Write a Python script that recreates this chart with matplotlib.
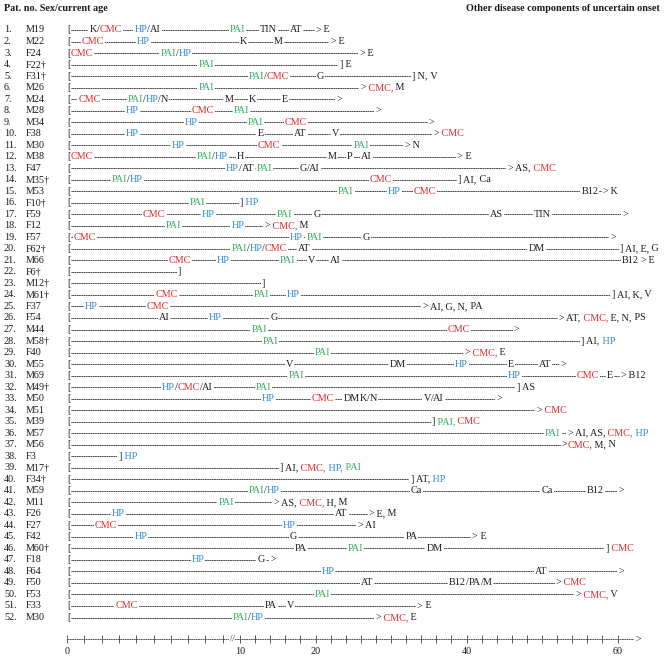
import numpy as np
import matplotlib
matplotlib.use("Agg")
import matplotlib.pyplot as plt

plt.rcParams['font.family'] = ['Liberation Serif', 'DejaVu Serif']

# ---------------- data ----------------
patients = ["M19", "M22", "F24", "F22†", "F31†", "M26", "M24", "M28", "M34", "F38",
            "M30", "M38", "F47", "M35†", "M53", "F10†", "F59", "F12", "F57", "F62†",
            "M66", "F6†", "M12†", "M61†", "F37", "F54", "M44", "M58†", "F40", "M55",
            "M69", "M49†", "M50", "M51", "M39", "M57", "M56", "F3", "M17†", "F34†",
            "M59", "M11", "F26", "F27", "F42", "M60†", "F18", "F64", "F50", "F53",
            "F33", "M30"]

# position (years) where each patient's line ends, and how it ends
line_end = [20.4, 22.3, 26.2, 23.4, 33.0, 26.3, 23.1, 28.3, 35.4, 36.0,
            32.1, 39.1, 45.8, 39.1, 58.4, 10.2, 61.0, 13.6, 59.4, 60.5,
            63.4, 6.5, 13.1, 59.4, 34.5, 52.6, 46.6, 55.4, 40.1, 52.8,
            60.8, 46.8, 44.3, 49.6, 35.6, 53.7, 53.0, 3.06, 15.5, 32.8,
            60.5, 14.8, 27.4, 25.9, 41.1, 58.6, 14.4, 60.5, 52.2, 54.8,
            33.8, 28.3]
line_close = [">", ">", ">", "]", "]", ">", ">", ">", ">", ">",
              ">", ">", ">", "]", ">", "]", ">", ">", ">", "]",
              ">", "]", "]", "]", ">", ">", ">", "]", ">", ">",
              ">", "]", ">", ">", "]", ">", ">", "]", "]", "]",
              ">", ">", ">", ">", ">", "]", ">", ">", ">", ">",
              ">", ">"]

# onset events: (age, label)
events = [
    [(1.3, "K/CMC"), (3.9, "HP/AI"), (9.4, "PAI"), (12.6, "TIN"), (16.6, "AT")],
    [(0.85, "CMC"), (4.05, "HP"), (10.0, "K"), (14.5, "M")],
    [(0.2, "CMC"), (5.4, "PAI/HP")],
    [(7.6, "PAI")],
    [(11.2, "PAI/CMC"), (20.2, "G")],
    [(7.6, "PAI")],
    [(0.65, "CMC"), (3.5, "PAI/HP/N"), (9.1, "M"), (11.2, "K"), (15.5, "E")],
    [(3.4, "HP"), (7.2, "CMC"), (9.65, "PAI")],
    [(6.8, "HP"), (11.0, "PAI"), (15.9, "CMC")],
    [(3.4, "HP"), (12.3, "E"), (17.2, "AT"), (22.2, "V")],
    [(6.05, "HP"), (12.4, "CMC"), (25.0, "PAI")],
    [(0.2, "CMC"), (7.5, "PAI/HP"), (9.8, "H"), (21.6, "M"), (24.2, "P"), (26.0, "AI")],
    [(9.2, "HP/AT"), (12.2, "PAI"), (17.9, "G/AI")],
    [(2.6, "PAI/HP"), (27.2, "CMC")],
    [(23.0, "PAI"), (29.6, "HP"), (33.0, "CMC"), (55.2, "B12")],
    [(7.1, "PAI")],
    [(4.4, "CMC"), (7.8, "HP"), (14.9, "PAI"), (19.7, "G"), (43.1, "AS"), (48.9, "TIN")],
    [(5.7, "PAI"), (9.5, "HP")],
    [(0.4, "CMC"), (16.6, "HP"), (18.8, "PAI"), (26.2, "G")],
    [(9.5, "PAI/HP/CMC"), (17.7, "AT"), (48.2, "DM")],
    [(5.9, "CMC"), (8.65, "HP"), (15.3, "PAI"), (19.0, "V"), (21.9, "AI"), (60.6, "B12")],
    [],
    [],
    [(5.1, "CMC"), (11.85, "PAI"), (16.2, "HP")],
    [(1.05, "HP"), (4.6, "CMC")],
    [(5.3, "AI"), (8.2, "HP"), (14.0, "G")],
    [(11.5, "PAI"), (37.5, "CMC")],
    [(13.0, "PAI")],
    [(19.9, "PAI")],
    [(16.1, "V"), (29.8, "DM"), (38.5, "HP"), (45.5, "E"), (49.6, "AT")],
    [(16.4, "PAI"), (45.5, "HP"), (54.6, "CMC"), (58.6, "E")],
    [(5.5, "HP/CMC/AI"), (12.1, "PAI")],
    [(12.9, "HP"), (19.5, "CMC"), (23.7, "DM"), (25.9, "K/N"), (34.3, "V/AI")],
    [],
    [],
    [(50.4, "PAI")],
    [],
    [],
    [],
    [],
    [(11.2, "PAI/HP"), (32.6, "Ca"), (49.9, "Ca"), (55.9, "B12")],
    [(8.75, "PAI")],
    [(2.6, "HP"), (22.6, "AT")],
    [(1.6, "CMC"), (15.7, "HP")],
    [(3.9, "HP"), (16.6, "G"), (31.9, "PA")],
    [(17.3, "PA"), (24.3, "PAI"), (34.7, "DM")],
    [(7.2, "HP"), (12.3, "G")],
    [(20.8, "HP"), (49.1, "AT")],
    [(26.0, "AT"), (37.7, "B12/PA/M")],
    [(19.9, "PAI")],
    [(2.8, "CMC"), (13.3, "PA"), (16.2, "V")],
    [(9.6, "PAI/HP")],
]

# other disease components of uncertain onset
trailing = [" E", " E", " E", " E", " N, V", " CMC, M", "", "", "", " CMC",
            " N", " E", " AS, CMC", " AI, Ca", " K", " HP", "", " CMC, M", "", " AI, E, G",
            " E", "", "", " AI, K, V", " AI, G, N, PA", " AT, CMC, E, N, PS", "", " AI, HP", " CMC, E", "",
            " B12", " AS", "", " CMC", " PAI, CMC", " AI, AS, CMC, HP", "CMC, M, N", " HP",
            " AI, CMC, HP, PAI", " AT, HP",
            "", " AS, CMC, H, M", " E, M", " AI", " E", " CMC", "", "", " CMC", " CMC, V",
            " E", " CMC, E"]

axis_ticks = [0, 1, 2, 3, 4, 5, 6, 7, 8, 9, 10] + list(range(12, 61, 2))
axis_labels = [0, 10, 20, 40, 60]
axis_end = 62.7
axis_break = 9.55

COLORS = {"CMC": "#e3262b", "HP": "#3189d3", "PAI": "#33ac5e"}
BLACK = "#1a1a1a"
FS = 7.3

# ---------------- broken x scale ----------------
def fwd(a):
    a = np.asarray(a, dtype=float)
    return np.where(a <= 10, a * 17.3, 173 + (a - 10) * 7.55)

def inv(p):
    p = np.asarray(p, dtype=float)
    return np.where(p <= 173, p / 17.3, 10 + (p - 173) / 7.55)

W, H = 667, 657
fig = plt.figure(figsize=(W / 100, H / 100), dpi=100)
ax = fig.add_axes([0, 0, 1, 1])
ax.set_xscale('function', functions=(fwd, inv))
ax.set_xlim(float(inv(-67)), float(inv(W - 67)))
row0, dy = 30.0, 11.52
ax.set_ylim(1 + (H - row0) / dy, 1 - row0 / dy)
ax.axis('off')

BOX = dict(boxstyle='square,pad=0.1', fc='white', ec='none')


def color_of(tok):
    return COLORS.get(tok.strip().rstrip(","), BLACK)


def chain(x, y, pieces, gap=-0.15):
    """Draw a multi-coloured text run: first a white mask pass, then the glyphs."""
    for masked in (True, False):
        kw = dict(fontsize=FS)
        if masked:
            kw.update(bbox=BOX, zorder=3)
        else:
            kw.update(zorder=4)
        col0 = 'none' if masked else pieces[0][1]
        t = ax.text(x, y, pieces[0][0], color=col0, ha='left', va='center', **kw)
        for s, c in pieces[1:]:
            t = ax.annotate(s, xy=(1, 0), xycoords=t, xytext=(gap, 0),
                            textcoords='offset points', ha='left', va='bottom',
                            color='none' if masked else c, **kw)


def label_pieces(lbl):
    toks = lbl.split("/")
    out = []
    for i, tk in enumerate(toks):
        if i:
            out.append(("/", BLACK))
        out.append((tk, color_of(tk)))
    return out


def trail_pieces(txt):
    lead = " " if txt.startswith(" ") else ""
    toks = txt.strip().split(", ")
    out = []
    for i, tk in enumerate(toks):
        s = (lead if i == 0 else " ") + tk
        if i < len(toks) - 1:
            s += ","
        out.append((s, color_of(tk)))
    return out


ytr = ax.get_yaxis_transform()
for i, pat in enumerate(patients):
    y = i + 1
    end = line_end[i]
    ax.plot([0, end], [y, y], color='#303030', lw=0.6, dashes=(2.2, 0.55),
            solid_capstyle='butt', zorder=2)
    ax.text(0, y, "[", ha='left', va='center', fontsize=FS, color=BLACK,
            bbox=BOX, zorder=4)
    for age, lbl in events[i]:
        chain(age, y, label_pieces(lbl))
    t = ax.text(end, y, line_close[i], ha='center', va='center', fontsize=FS,
                color=BLACK, bbox=BOX, zorder=4)
    if trailing[i]:
        for s, c in trail_pieces(trailing[i]):
            t = ax.annotate(s, xy=(1, 0), xycoords=t, ha='left', va='bottom',
                            color=c, fontsize=FS, zorder=4)
    ax.text(4 / W, y, f"{i + 1}.", transform=ytr, ha='left', va='center',
            fontsize=FS, color=BLACK)
    ax.text(26 / W, y, pat, transform=ytr, ha='left', va='center',
            fontsize=FS, color=BLACK)

# headers
yh = 1 - (row0 - 8.5) / dy
ax.text(4 / W, yh, "Pat. no. Sex/current age", transform=ytr, ha='left',
        va='center', fontsize=FS, fontweight='bold', color=BLACK)
ax.text(660 / W, yh, "Other disease components of uncertain onset", transform=ytr,
        ha='right', va='center', fontsize=FS, fontweight='bold', color=BLACK)

# time axis
ya = 1 + (639.3 - row0) / dy
yl = 1 + (651.5 - row0) / dy
ax.plot([0, axis_end], [ya, ya], color='#404040', lw=0.6, dashes=(2.2, 0.55), zorder=2)
ax.plot(axis_ticks, [ya] * len(axis_ticks), ls='none', marker='|', ms=5.5,
        mew=0.6, color='#404040', zorder=3)
ax.text(axis_break, ya, "//", ha='center', va='center', fontsize=FS - 1,
        color=BLACK, bbox=BOX, zorder=4)
ax.text(axis_end, ya, ">", ha='center', va='center', fontsize=FS, color=BLACK,
        bbox=BOX, zorder=4)
for v in axis_labels:
    ax.text(v, yl, str(v), ha='center', va='center', fontsize=FS, color=BLACK)

fig.savefig("out.png", dpi=100, facecolor='white')
